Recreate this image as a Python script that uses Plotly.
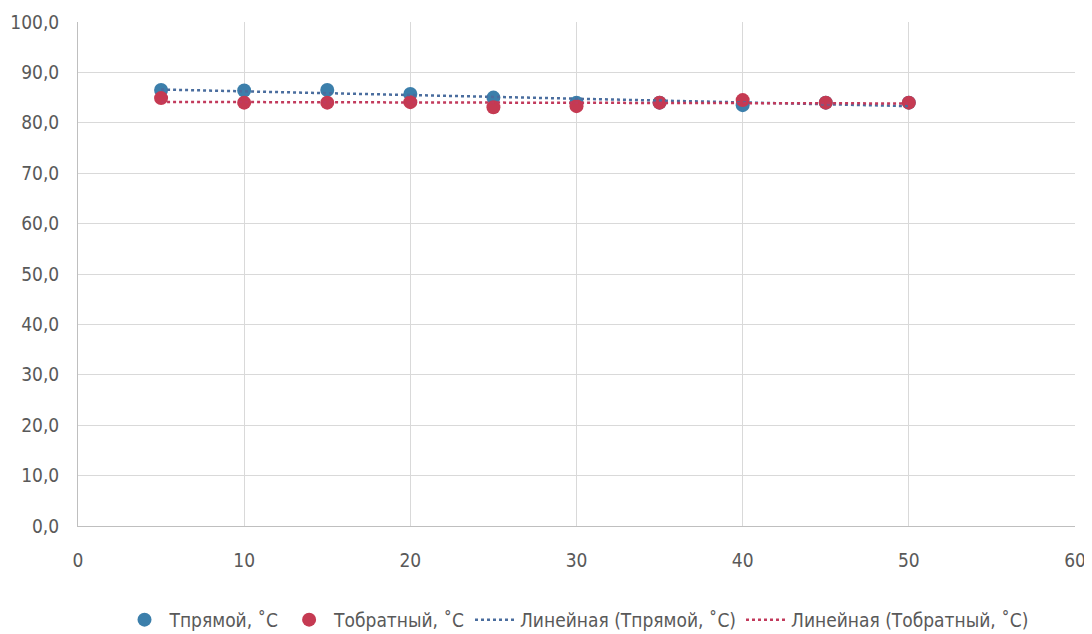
import numpy as np
import plotly.graph_objects as go

x_vals = [5, 10, 15, 20, 25, 30, 35, 40, 45, 50]
t_pryamoy = [86.5, 86.4, 86.5, 85.7, 85.0, 84.0, 84.0, 83.5, 84.0, 84.0]
t_obratny = [84.9, 84.0, 84.0, 84.1, 83.1, 83.3, 84.0, 84.5, 84.0, 84.0]

y_ticks = [0, 10, 20, 30, 40, 50, 60, 70, 80, 90, 100]
x_ticks = [0, 10, 20, 30, 40, 50, 60]

name1 = "Тпрямой, ˚С"
name2 = "Тобратный, ˚С"

c_blue = "#3c7fab"
c_red = "#c53a52"
c_blue_line = "#4a6d9e"
c_red_line = "#c23a5c"

FONT = "Liberation Sans Narrow, DejaVu Sans Condensed, Arial Narrow, sans-serif"

def trend(xs, ys):
    k, b = np.polyfit(xs, ys, 1)
    xe = [min(xs), max(xs)]
    return xe, [k * v + b for v in xe]

fig = go.Figure()
fig.add_trace(go.Scatter(x=x_vals, y=t_pryamoy, mode="markers", name=name1,
                         marker=dict(color=c_blue, size=14)))
fig.add_trace(go.Scatter(x=x_vals, y=t_obratny, mode="markers", name=name2,
                         marker=dict(color=c_red, size=14)))
tx1, ty1 = trend(x_vals, t_pryamoy)
tx2, ty2 = trend(x_vals, t_obratny)
fig.add_trace(go.Scatter(x=tx1, y=ty1, mode="lines", name="Линейная (" + name1 + ")",
                         line=dict(color=c_blue_line, width=2.5, dash="dot")))
fig.add_trace(go.Scatter(x=tx2, y=ty2, mode="lines", name="Линейная (" + name2 + ")",
                         line=dict(color=c_red_line, width=2.5, dash="dot")))

fig.update_layout(
    width=1092, height=634,
    margin=dict(l=70, r=25, t=14, b=116),
    paper_bgcolor="white", plot_bgcolor="white",
    separators=", ",
    font=dict(family=FONT, size=19, color="#595959"),
    showlegend=True,
    legend=dict(orientation="h", x=0.5, xanchor="center", xref="paper",
                y=0.035, yanchor="middle", yref="container",
                font=dict(family=FONT, size=19, color="#595959"),
                itemwidth=40, tracegroupgap=0),
)
fig.update_xaxes(range=[0, 60], tickvals=x_ticks, showgrid=True, gridcolor="#d9d9d9",
                 gridwidth=1, zeroline=False, showline=True, linecolor="#bfbfbf",
                 ticks="", ticklen=0, tickfont=dict(size=19), automargin=False,
                 ticklabelstandoff=17)
fig.update_yaxes(range=[0, 100], tickvals=y_ticks, tickformat=".1f", showgrid=True,
                 gridcolor="#d9d9d9", gridwidth=1, zeroline=False, showline=True,
                 linecolor="#bfbfbf", ticks="", tickfont=dict(size=19), automargin=False,
                 ticklabelstandoff=14)

fig.write_html("out.html")
